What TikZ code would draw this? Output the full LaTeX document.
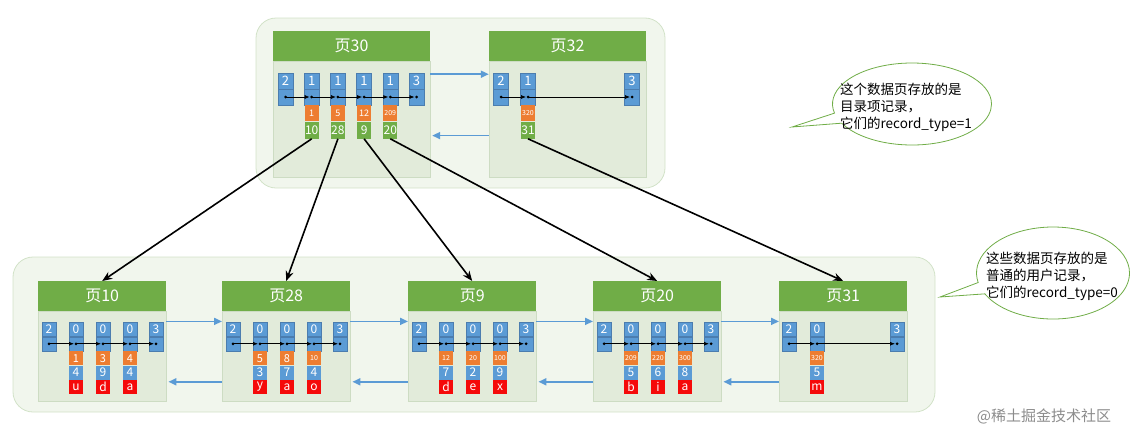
\documentclass[tikz,border=0pt]{standalone}
\usepackage{fontspec}
\setmainfont{Noto Sans CJK SC}
\usetikzlibrary{shapes.callouts,arrows.meta}

\definecolor{headgreen}{RGB}{112,173,71}
\definecolor{bodyfill}{RGB}{226,235,218}
\definecolor{bodyline}{RGB}{205,220,195}
\definecolor{outerfill}{RGB}{241,246,237}
\definecolor{outerline}{RGB}{210,226,200}
\definecolor{recblue}{RGB}{91,155,213}
\definecolor{recline}{RGB}{75,125,175}
\definecolor{orng}{RGB}{237,125,49}
\definecolor{redcell}{RGB}{245,10,10}
\definecolor{linkblue}{RGB}{91,155,213}

\newcommand{\sm}{\fontsize{7}{7}\selectfont}

\begin{document}
\begin{tikzpicture}[x=1pt,y=-1pt,
    box/.style={draw=outerline,fill=outerfill,rounded corners=20pt,line width=0.8pt},
    head/.style={fill=headgreen,text=white,minimum height=30pt,inner sep=0,font=\fontsize{16}{16}\selectfont},
    body/.style={fill=bodyfill,draw=bodyline,inner sep=0},
    rec/.style={fill=recblue,draw=recline,line width=0.5pt,text=white,inner sep=0},
    cell/.style={text=white,inner sep=0},
    link/.style={-{Latex[length=5pt,width=4pt]},line width=0.7pt,shorten >=2pt},
    plink/.style={-{Triangle[length=8pt,width=7pt]},line width=1.7pt,draw=linkblue},
    tree/.style={-{Stealth[length=10pt,width=8pt]},line width=1.6pt},
    note/.style={ellipse callout,draw=headgreen,fill=white,line width=0.8pt,inner sep=0},
    notetext/.style={align=left,inner sep=0,font=\fontsize{13.5}{17}\selectfont}
  ]
  \useasboundingbox (0,0) rectangle (1140,442);

  % containers %
  \draw[box] (256,18) rectangle (665,188);
  \draw[box] (13,257) rectangle (935,412);

  % top level pages %
  \node[head,minimum width=157pt] (h30) at (351.5,46) {页30};
  \node[body,minimum width=157pt,minimum height=116pt,anchor=north] (b30) at (h30.south) {};
  \node[head,minimum width=157pt] (h32) at (567.5,46) {页32};
  \node[body,minimum width=157pt,minimum height=116pt,anchor=north] (b32) at (h32.south) {};

  \foreach \i/\n in {0/2,1/1,2/1,3/1,4/1,5/3} {
    \node[rec,minimum width=15pt,minimum height=15.5pt,anchor=north,font=\fontsize{13}{13}\selectfont] (r30-\i) at ({285.5+26.2*\i},73) {\n};
    \node[rec,minimum width=15pt,minimum height=15.5pt,anchor=north] (d30-\i) at (r30-\i.south) {};
    \fill (d30-\i.center) circle (1.5pt);
  }
  \foreach \i [count=\j from 1] in {0,...,4}
    \draw[link] (d30-\i.center) -- (d30-\j.center);
  \foreach \i/\k/\c in {1/1/10,2/5/28,3/12/9,4/{\sm 209}/20} {
    \node[cell,fill=orng,minimum width=14pt,minimum height=16pt,anchor=north,font=\fontsize{9}{9}\selectfont] (o30-\i) at (d30-\i.south) {\k};
    \node[cell,fill=headgreen,minimum width=14pt,minimum height=17pt,anchor=north,font=\fontsize{12}{12}\selectfont] (g30-\i) at (o30-\i.south) {\c};
  }

  \foreach \i/\x/\n in {0/501/2,1/528/1,2/632/3} {
    \node[rec,minimum width=15pt,minimum height=15.5pt,anchor=north,font=\fontsize{13}{13}\selectfont] (r32-\i) at (\x,73) {\n};
    \node[rec,minimum width=15pt,minimum height=15.5pt,anchor=north] (d32-\i) at (r32-\i.south) {};
    \fill (d32-\i.center) circle (1.5pt);
  }
  \draw[link] (d32-0.center) -- (d32-1.center);
  \draw[link] (d32-1.center) -- (d32-2.center);
  \node[cell,fill=orng,minimum width=14pt,minimum height=16pt,anchor=north] (o32-1) at (d32-1.south) {\sm 320};
  \node[cell,fill=headgreen,minimum width=14pt,minimum height=17pt,anchor=north,font=\fontsize{12}{12}\selectfont] (g32-1) at (o32-1.south) {31};

  \draw[plink] ([yshift=-13pt]b30.north east) -- ([yshift=-13pt]b32.north west);
  \draw[plink,shorten >=2pt] ([yshift=42pt]b32.south west) -- ([yshift=42pt]b30.south east);

  % leaf pages %
  \foreach \p/\L in {10/38,28/222,9/408,20/593,31/779} {
    \node[head,minimum width=128pt,anchor=north west] (h\p) at (\L,281) {页\p};
    \node[body,minimum width=128pt,minimum height=90pt,anchor=north] (b\p) at (h\p.south) {};
  }
  \foreach \p/\L in {10/38,28/222,9/408,20/593} {
    \foreach \i/\dx/\n in {0/11/2,1/38/0,2/65/0,3/92/0,4/118/3} {
      \node[rec,minimum width=14pt,minimum height=14pt,anchor=north,font=\fontsize{12}{12}\selectfont] (r\p-\i) at (\L+\dx,322) {\n};
      \node[rec,minimum width=14pt,minimum height=14pt,anchor=north] (d\p-\i) at (r\p-\i.south) {};
      \fill (d\p-\i.center) circle (1.5pt);
    }
    \foreach \i [count=\j from 1] in {0,...,3}
      \draw[link] (d\p-\i.center) -- (d\p-\j.center);
  }
  \foreach \i/\dx/\n in {0/10/2,1/38/0,2/118/3} {
    \node[rec,minimum width=14pt,minimum height=14pt,anchor=north,font=\fontsize{12}{12}\selectfont] (r31-\i) at (779+\dx,322) {\n};
    \node[rec,minimum width=14pt,minimum height=14pt,anchor=north] (d31-\i) at (r31-\i.south) {};
    \fill (d31-\i.center) circle (1.5pt);
  }
  \draw[link] (d31-0.center) -- (d31-1.center);
  \draw[link] (d31-1.center) -- (d31-2.center);

  \foreach \p/\cells in {10/{1/1/4/u,2/3/9/d,3/4/4/a},28/{1/5/3/y,2/8/7/a,3/{\sm 10}/4/o},
      9/{1/{\sm 12}/7/d,2/{\sm 20}/2/e,3/{\sm 100}/9/x},20/{1/{\sm 209}/5/b,2/{\sm 220}/6/i,3/{\sm 300}/8/a},
      31/{1/{\sm 320}/5/m}} {
    \foreach \i/\o/\b/\r in \cells {
      \node[cell,fill=orng,minimum width=14pt,minimum height=14pt,anchor=north,font=\fontsize{11}{11}\selectfont] (o\p-\i) at (d\p-\i.south) {\o};
      \node[cell,fill=recblue,minimum width=14pt,minimum height=14pt,anchor=north,font=\fontsize{12}{12}\selectfont] (u\p-\i) at (o\p-\i.south) {\b};
      \node[cell,fill=redcell,minimum width=14pt,minimum height=14pt,anchor=north,font=\fontsize{12}{12}\selectfont] (c\p-\i) at (u\p-\i.south) {\r};
    }
  }

  \foreach \a/\b in {10/28,28/9,9/20,20/31} {
    \draw[plink] ([yshift=-10pt]b\a.north east) -- ([yshift=-10pt]b\b.north west);
    \draw[plink,shorten >=2pt] ([yshift=20pt]b\b.south west) -- ([yshift=20pt]b\a.south east);
  }

  % pointers from directory records %
  \draw[tree] (g30-1.south) -- (h10.north);
  \draw[tree] (g30-2.south) -- (h28.north);
  \draw[tree] (g30-3.south) -- (h9.north);
  \draw[tree] (g30-4.south) -- (h20.north);
  \draw[tree] (g32-1.south) -- (h31.north);

  % notes %
  \node[note,minimum width=159pt,minimum height=82pt,callout absolute pointer={(792,127)}] (n1) at (912,104) {};
  \node[notetext] (t1) at (906,107) {这个数据页存放的是\\目录项记录，\\它们的record\_type=1};
  \node[note,minimum width=153pt,minimum height=92pt,callout absolute pointer={(940,297)}] (n2) at (1053,273) {};
  \node[notetext] (t2) at (1052,276) {这些数据页存放的是\\普通的用户记录，\\它们的record\_type=0};

  \node[text=black!45,font=\fontsize{15}{15}\selectfont] (wm) at (1044,416) {@稀土掘金技术社区};
\end{tikzpicture}
\end{document}
